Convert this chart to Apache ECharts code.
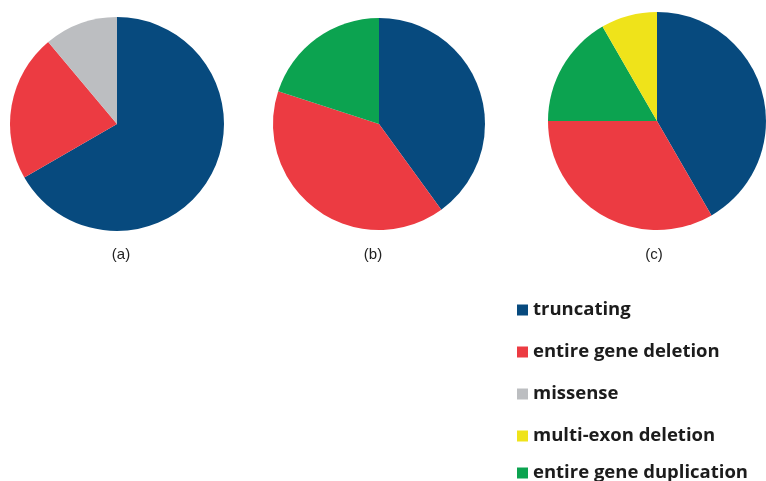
<!DOCTYPE html>
<html>
<head>
<meta charset="utf-8">
<script src="https://cdn.jsdelivr.net/npm/echarts@6/dist/echarts.min.js"></script>
<style>
  html, body { margin: 0; padding: 0; background: #fff; }
  #chart { width: 766px; height: 481px; }
</style>
</head>
<body>
<div id="chart"></div>
<script>
const categories = ["truncating", "entire gene deletion", "missense", "multi-exon deletion", "entire gene duplication"];
const colors = ["#074a7e", "#ec3b42", "#bcbec1", "#efe31a", "#0ca350"];
const panelLabels = ["(a)", "(b)", "(c)"];

// slices go clockwise from 12 o'clock
const pieANames = ["truncating", "entire gene deletion", "missense"];
const pieAValues = [6, 2, 1];
const pieBNames = ["truncating", "entire gene deletion", "entire gene duplication"];
const pieBValues = [2, 2, 1];
const pieCNames = ["truncating", "entire gene deletion", "entire gene duplication", "multi-exon deletion"];
const pieCValues = [5, 4, 2, 1];

const colorOf = (name) => colors[categories.indexOf(name)];
const toData = (names, values) =>
  names.map((n, i) => ({ name: n, value: values[i], itemStyle: { color: colorOf(n) } }));

const pies = [
  { names: pieANames, values: pieAValues, center: [117, 124], r: 107 },
  { names: pieBNames, values: pieBValues, center: [379, 124], r: 106 },
  { names: pieCNames, values: pieCValues, center: [657, 121], r: 109 },
];
const labelX = [121, 373, 654];
const legendTops = [295, 337, 379, 421, 458];

const chart = echarts.init(document.getElementById("chart"));
chart.setOption({
  animation: false,
  color: colors,
  graphic: panelLabels.map((t, i) => ({
    type: "text",
    x: labelX[i],
    y: 255,
    style: {
      text: t,
      textAlign: "center",
      textVerticalAlign: "middle",
      font: "normal 15px 'Liberation Sans'",
      fill: "#222",
    },
  })),
  legend: categories.map((c, i) => ({
    data: [c],
    left: 512,
    top: legendTops[i],
    icon: "rect",
    itemWidth: 11,
    itemHeight: 11,
    selectedMode: false,
    textStyle: { fontFamily: "Open Sans", fontSize: 18.5, fontWeight: "bold", color: "#1c1c1c", lineHeight: 20 },
  })),
  series: pies.map((p) => ({
    type: "pie",
    center: p.center,
    radius: p.r,
    startAngle: 90,
    clockwise: true,
    label: { show: false },
    labelLine: { show: false },
    emphasis: { disabled: true },
    data: toData(p.names, p.values),
  })),
});
</script>
</body>
</html>
